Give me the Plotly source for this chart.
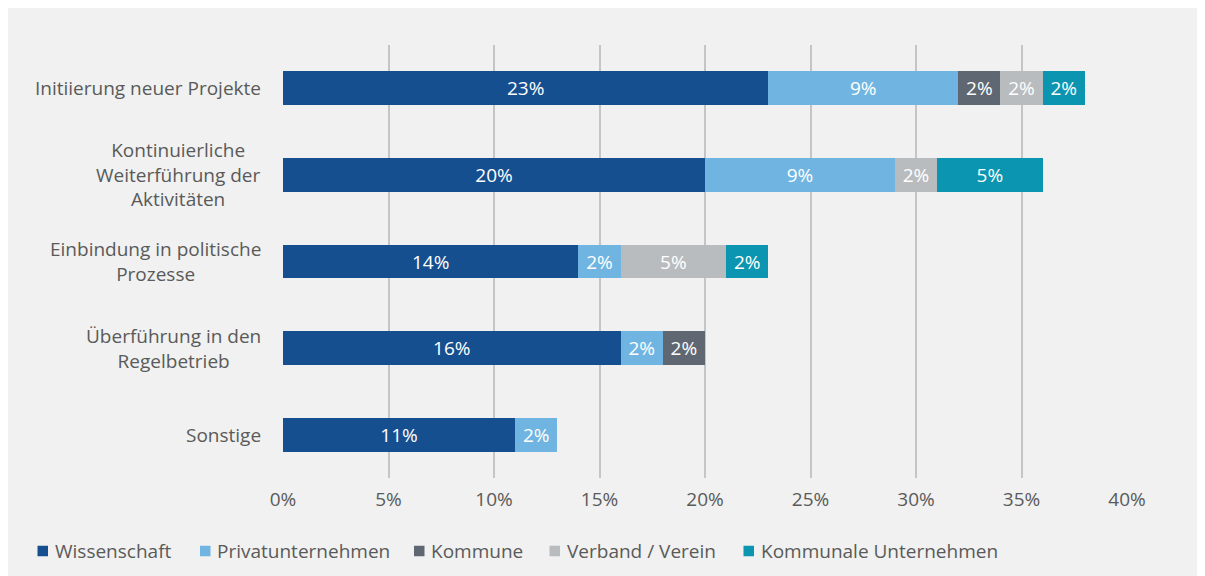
import plotly.graph_objects as go

categories = ["Initiierung neuer Projekte",
              "Kontinuierliche<br>Weiterführung der<br>Aktivitäten",
              "Einbindung in politische<br>Prozesse",
              "Überführung in den<br>Regelbetrieb",
              "Sonstige"]
series_names = ["Wissenschaft", "Privatunternehmen", "Kommune", "Verband / Verein", "Kommunale Unternehmen"]
wissenschaft = [23, 20, 14, 16, 11]
privat = [9, 9, 2, 2, 2]
kommune = [2, None, None, 2, None]
verband = [2, 2, 5, None, None]
kommunal_unt = [2, 5, 2, None, None]
colors = ["#164f8f", "#70b5e1", "#5f6872", "#b9bcbe", "#0b95b0"]
x_ticks = [0, 5, 10, 15, 20, 25, 30, 35, 40]

FONT = "Open Sans"
FS = 19
TXT = "#5a5a5a"
W, H = 1205, 576
ML, MR, MT, MB = 275, 86, 37, 106
PW, PH = W - ML - MR, H - MT - MB

fig = go.Figure()
for name, vals, col in zip(series_names, [wissenschaft, privat, kommune, verband, kommunal_unt], colors):
    fig.add_trace(go.Bar(
        y=list(range(len(categories))), x=vals, name=name, orientation="h",
        marker=dict(color=col, line=dict(width=0)),
        text=[f"{v}%" if v else None for v in vals],
        textposition="inside", insidetextanchor="middle", textangle=0,
        insidetextfont=dict(color="white", size=FS, family=FONT),
        width=0.39, showlegend=False,
    ))

# category labels (centre-aligned multi-line)
for i, c in enumerate(categories):
    fig.add_annotation(x=(255 - ML) / PW, xref="paper", xanchor="right", y=i, yref="y",
                       text=c, showarrow=False, align="center",
                       font=dict(size=FS, color=TXT, family=FONT))

# manual legend
legend_sq_px = [29.5, 192, 406, 541.5, 735.5]
legend_y = (PH - (543 - MT)) / PH
for name, col, px in zip(series_names, colors, legend_sq_px):
    fig.add_shape(type="rect", xref="paper", yref="paper",
                  xsizemode="pixel", ysizemode="pixel",
                  xanchor=(px - ML) / PW, yanchor=legend_y,
                  x0=0, x1=10.5, y0=-5.25, y1=5.25,
                  fillcolor=col, line=dict(width=0))
    fig.add_annotation(x=(px + 15 - ML) / PW, xref="paper", xanchor="left",
                       y=legend_y, yref="paper", yanchor="middle",
                       text=name, showarrow=False,
                       font=dict(size=FS, color=TXT, family=FONT))

fig.update_layout(
    width=W, height=H,
    barmode="stack",
    paper_bgcolor="#f0f1f0", plot_bgcolor="rgba(0,0,0,0)",
    margin=dict(l=ML, r=MR, t=MT, b=MB),
    font=dict(family=FONT, size=FS, color=TXT),
    xaxis=dict(range=[0, 40], tickvals=x_ticks, ticktext=[f"{t}%" for t in x_ticks],
               showgrid=True, gridcolor="#c4c5c7", gridwidth=2, zeroline=False,
               showline=False, ticks="outside", ticklen=4, tickcolor="rgba(0,0,0,0)",
               tickfont=dict(size=FS, color=TXT)),
    yaxis=dict(range=[4.5, -0.5], showticklabels=False, showgrid=False, zeroline=False, showline=False),
    showlegend=False,
)
fig.write_html("out.html")
